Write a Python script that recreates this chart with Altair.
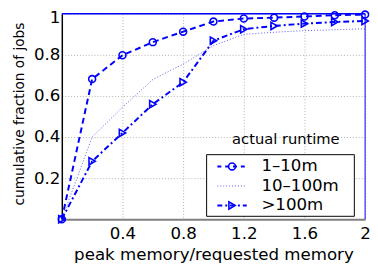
import altair as alt
import pandas as pd

# Data
x_vals = [0.0, 0.2, 0.4, 0.6, 0.8, 1.0, 1.2, 1.4, 1.6, 1.8, 2.0]
s_short = [0.0, 0.682, 0.798, 0.862, 0.913, 0.962, 0.977, 0.981, 0.987, 0.993, 0.996]
s_mid = [0.0, 0.40, 0.545, 0.68, 0.755, 0.845, 0.90, 0.91, 0.918, 0.922, 0.927]
s_long = [0.0, 0.282, 0.42, 0.56, 0.667, 0.869, 0.925, 0.941, 0.952, 0.960, 0.965]
series_names = ["1\u201310m", "10\u2013100m", ">100m"]
x_ticks = [0.4, 0.8, 1.2, 1.6, 2.0]
y_ticks = [0.2, 0.4, 0.6, 0.8, 1.0]

rows = []
for name, vals in zip(series_names, [s_short, s_mid, s_long]):
    for xv, yv in zip(x_vals, vals):
        rows.append({"x": xv, "y": yv, "series": name})
df = pd.DataFrame(rows)

BLUE = "#0000ff"
FONT = "DejaVu Sans"

xscale = alt.Scale(domain=[0, 2], nice=False, zero=False)
yscale = alt.Scale(domain=[0, 1], nice=False, zero=False)

xenc = alt.X("x:Q", scale=xscale, axis=alt.Axis(
    values=x_ticks, format="~g", grid=True, ticks=False,
    title="peak memory/requested memory", titleFont=FONT, titleFontSize=17,
    titleFontWeight="normal", titleColor="black", titleBaseline="alphabetic",
    titleY=41, labelFont=FONT, labelFontSize=17, labelColor="black",
    labelPadding=7, domainColor="#808080", domainWidth=2,
    gridColor="#b0b0b0", gridDash=[1, 2], gridWidth=1,
    labelFlush=False))
yenc = alt.Y("y:Q", scale=yscale, axis=alt.Axis(
    values=y_ticks, format="~g", grid=True, ticks=False,
    title="cumulative fraction of jobs", titleFont=FONT, titleFontSize=14,
    titleFontWeight="normal", titleColor="black", titleX=-43, titleY=102,
    titleBaseline="middle", titleAngle=-90,
    labelFont=FONT, labelFontSize=17, labelColor="black", labelPadding=2,
    labelOffset={"condition": {"test": "datum.value == 1", "value": 4}, "value": 0},
    domainColor="black", domainWidth=1.5, labelFlush=False,
    gridColor="#b0b0b0", gridDash=[1, 2], gridWidth=1))

base = alt.Chart(df)

line1 = base.transform_filter(alt.datum.series == series_names[0]).mark_line(
    color=BLUE, strokeWidth=2, strokeDash=[6, 4]).encode(x=xenc, y=yenc)
line2 = base.transform_filter(alt.datum.series == series_names[1]).mark_line(
    color="#5a5aff", strokeWidth=1, strokeDash=[1, 2]).encode(x="x:Q", y="y:Q")
line3 = base.transform_filter(alt.datum.series == series_names[2]).mark_line(
    color=BLUE, strokeWidth=2, strokeDash=[6, 3, 2, 3]).encode(x="x:Q", y="y:Q")
pts1 = base.transform_filter(alt.datum.series == series_names[0]).mark_point(
    shape="circle", filled=False, color=BLUE, size=50, strokeWidth=1.6, opacity=1).encode(x="x:Q", y="y:Q")
pts3 = base.transform_filter(alt.datum.series == series_names[2]).mark_point(
    shape="triangle-right", filled=False, color=BLUE, size=55, strokeWidth=1.6, opacity=1).encode(x="x:Q", y="y:Q")

one = pd.DataFrame({"a": [0]})
top_border = alt.Chart(one).mark_rule(color=BLUE, strokeWidth=1.5).encode(
    x=alt.value(0), x2=alt.value(310), y=alt.value(0))
right_border = alt.Chart(one).mark_rule(color=BLUE, strokeWidth=1).encode(
    x=alt.value(310), y=alt.value(0), y2=alt.value(210))

# Legend (drawn manually)
leg_box = alt.Chart(one).mark_rect(fill="white", stroke="black", strokeWidth=1).encode(
    x=alt.value(148), x2=alt.value(299), y=alt.value(144), y2=alt.value(207))
leg_title = alt.Chart(one).mark_text(text="actual runtime", font=FONT, fontSize=15,
                                     baseline="alphabetic", align="center", color="black").encode(
    x=alt.value(229), y=alt.value(133))
row_y = [156, 176, 196]
leg_l1 = alt.Chart(one).mark_rule(color=BLUE, strokeWidth=2, strokeDash=[4, 4]).encode(
    x=alt.value(159), x2=alt.value(189), y=alt.value(row_y[0]))
leg_l2 = alt.Chart(one).mark_rule(color="#5a5aff", strokeWidth=1, strokeDash=[1, 2]).encode(
    x=alt.value(159), x2=alt.value(189), y=alt.value(row_y[1]))
leg_l3 = alt.Chart(one).mark_rule(color=BLUE, strokeWidth=2, strokeDash=[5, 3, 2, 3]).encode(
    x=alt.value(159), x2=alt.value(189), y=alt.value(row_y[2]))
leg_p1 = alt.Chart(one).mark_point(shape="circle", filled=False, color=BLUE, size=50,
                                   strokeWidth=1.6, opacity=1).encode(x=alt.value(174), y=alt.value(row_y[0]))
leg_p3 = alt.Chart(one).mark_point(shape="triangle-right", filled=False, color=BLUE, size=55,
                                   strokeWidth=1.6, opacity=1).encode(x=alt.value(174), y=alt.value(row_y[2]))
leg_texts = [
    alt.Chart(one).mark_text(text=n, font=FONT, fontSize=17, baseline="middle", align="left",
                             color="black").encode(x=alt.value(204), y=alt.value(yy))
    for n, yy in zip(series_names, row_y)
]

chart = alt.layer(
    line1, line2, line3, pts1, pts3, top_border, right_border,
    leg_box, leg_title, leg_l1, leg_l2, leg_l3, leg_p1, leg_p3, *leg_texts
).properties(
    width=310, height=210,
    autosize=alt.AutoSizeParams(type="none"),
    padding={"left": 55, "top": 3, "right": 5, "bottom": 50},
).configure_view(stroke=None)

chart.save("out.html", embed_options={"renderer": "svg", "actions": False})
